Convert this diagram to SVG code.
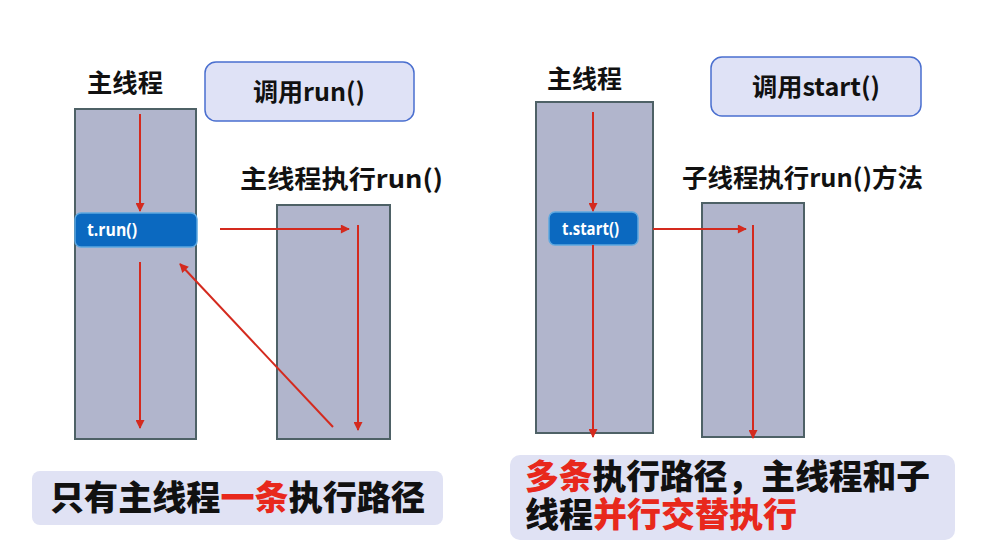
<svg xmlns="http://www.w3.org/2000/svg" width="981" height="547" viewBox="0 0 981 547">
<defs>
<marker id="ah" viewBox="0 0 10 10" refX="9" refY="5" markerWidth="10" markerHeight="9" orient="auto" markerUnits="userSpaceOnUse">
<path d="M0,0 L10,5 L0,10 z" fill="#d42a1e"/>
</marker>
<style>
.thread{fill:#b1b5cc;stroke:#4e6166;stroke-width:2}
.call{fill:#0b69c0;stroke:#5ea8e0;stroke-width:1.5}
.calltxt{fill:#ffffff;font-family:"Open Sans","Noto Sans",sans-serif;font-weight:bold;font-size:17px}
.hdr{fill:#111111;font-family:"Noto Sans CJK SC","Open Sans",sans-serif;font-weight:bold;font-size:25px}
.tip{fill:#dfe2f6;stroke:#4a6fcf;stroke-width:1.5}
.tiptxt{fill:#111111;font-family:"Noto Sans CJK SC","Open Sans",sans-serif;font-weight:bold;font-size:25px}
.note{fill:#e0e2f4}
.notetxt{fill:#111111;font-family:"Noto Sans CJK SC",sans-serif;font-weight:900;font-size:34px}
.red{fill:#e8281c}
.ar{stroke:#d42a1e;stroke-width:2;fill:none;marker-end:url(#ah)}
</style>
</defs>
<rect width="981" height="547" fill="#ffffff"/>

<g id="left-main-label"><text class="hdr" x="87" y="92" textLength="76" lengthAdjust="spacingAndGlyphs">主线程</text></g>
<g id="left-tip"><rect class="tip" x="205" y="62" width="209" height="59" rx="11"/><text class="tiptxt" x="253" y="101" textLength="112" lengthAdjust="spacingAndGlyphs">调用run()</text></g>
<g id="left-sub-label"><text class="hdr" x="240" y="188" textLength="203" lengthAdjust="spacingAndGlyphs">主线程执行run()</text></g>
<g id="left-main-thread"><rect class="thread" x="75" y="109" width="121" height="330"/></g>
<g id="left-sub-thread"><rect class="thread" x="277" y="205" width="113" height="234"/></g>
<g id="left-call"><rect class="call" x="75" y="213" width="122" height="34" rx="6"/><text class="calltxt" x="87" y="236" textLength="50" lengthAdjust="spacingAndGlyphs">t.run()</text></g>

<g id="right-main-label"><text class="hdr" x="547" y="88" textLength="75" lengthAdjust="spacingAndGlyphs">主线程</text></g>
<g id="right-tip"><rect class="tip" x="711" y="57" width="210" height="59" rx="11"/><text class="tiptxt" x="752" y="96" textLength="128" lengthAdjust="spacingAndGlyphs">调用start()</text></g>
<g id="right-sub-label"><text class="hdr" x="682" y="187" textLength="241" lengthAdjust="spacingAndGlyphs">子线程执行run()方法</text></g>
<g id="right-main-thread"><rect class="thread" x="536" y="102" width="117" height="331"/></g>
<g id="right-sub-thread"><rect class="thread" x="702" y="203" width="102" height="234"/></g>
<g id="right-call"><rect class="call" x="549" y="212" width="89" height="33" rx="6"/><text class="calltxt" x="562" y="235" textLength="57" lengthAdjust="spacingAndGlyphs">t.start()</text></g>

<g id="connectors">
<line class="ar" x1="140" y1="114" x2="140" y2="211"/>
<line class="ar" x1="140" y1="262" x2="140" y2="428"/>
<line class="ar" x1="220" y1="229" x2="349" y2="229"/>
<line class="ar" x1="358" y1="225" x2="358" y2="430"/>
<line class="ar" x1="333" y1="427" x2="180" y2="264"/>
<line class="ar" x1="593" y1="112" x2="593" y2="211"/>
<line class="ar" x1="593" y1="245" x2="593" y2="437"/>
<line class="ar" x1="653" y1="229" x2="746" y2="229"/>
<line class="ar" x1="753" y1="225" x2="753" y2="438"/>
</g>

<g id="left-note"><rect class="note" x="32" y="471" width="411" height="54" rx="8"/><text class="notetxt" x="50" y="510" textLength="375" lengthAdjust="spacingAndGlyphs">只有主线程<tspan class="red">一条</tspan>执行路径</text></g>
<g id="right-note"><rect class="note" x="510" y="455" width="445" height="85" rx="10"/><text class="notetxt" x="525" y="489" textLength="405" lengthAdjust="spacingAndGlyphs"><tspan class="red">多条</tspan>执行路径，主线程和子</text><text class="notetxt" x="525" y="527"><tspan>线程</tspan><tspan class="red">并行交替执行</tspan></text></g>
</svg>
